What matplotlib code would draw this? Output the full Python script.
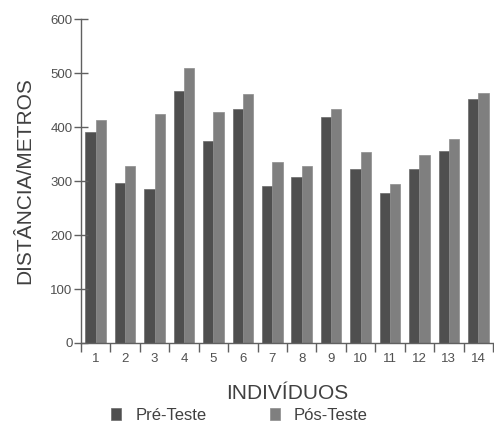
import matplotlib.pyplot as plt
import numpy as np

plt.rcParams['font.family'] = ['Liberation Sans', 'DejaVu Sans']

individuos = ['1', '2', '3', '4', '5', '6', '7', '8', '9', '10', '11', '12', '13', '14']
pre_teste = [390, 296, 285, 467, 374, 433, 291, 307, 418, 322, 277, 323, 356, 452]
pos_teste = [414, 328, 424, 510, 428, 462, 335, 327, 434, 353, 295, 349, 378, 464]

fig = plt.figure(figsize=(4.94, 4.25), dpi=100)
ax = fig.add_axes([0.164, 0.193, 0.834, 0.762])

x = np.arange(len(individuos))
w = 0.35
b1 = ax.bar(x - w / 2, pre_teste, w, color='#4f4f4f', edgecolor='#6a6a6a',
            linewidth=0.5, label='Pré-Teste')
b2 = ax.bar(x + w / 2, pos_teste, w, color='#7f7f7f', edgecolor='#8c8c8c',
            linewidth=0.5, label='Pós-Teste')

ax.set_xlim(-0.5, len(individuos) - 0.5)
ax.set_ylim(0, 600)
ax.set_yticks([0, 100, 200, 300, 400, 500, 600])
ax.set_xticks(x)
ax.set_xticklabels(individuos)
ax.set_xticks(np.arange(len(individuos) + 1) - 0.5, minor=True)

for s in ['top', 'right']:
    ax.spines[s].set_visible(False)
for s in ['left', 'bottom']:
    ax.spines[s].set_color('#606060')
    ax.spines[s].set_linewidth(1.0)

ax.tick_params(axis='y', direction='inout', length=10, width=1, color='#606060',
               labelsize=9.5, labelcolor='#505050', pad=1)
ax.tick_params(axis='x', which='major', length=0, labelsize=9.5,
               labelcolor='#505050', pad=7)
ax.tick_params(axis='x', which='minor', direction='out', length=6.5, width=1,
               color='#606060')

ax.set_ylabel('DISTÂNCIA/METROS', fontsize=15, color='#404040', labelpad=12)
ax.set_xlabel('INDIVÍDUOS', fontsize=15, color='#404040', labelpad=14)

fig.legend(handles=[b1, b2], labels=['Pré-Teste', 'Pós-Teste'], ncol=2,
           loc='center left', bbox_to_anchor=(0.225, 0.0235), frameon=False,
           borderpad=0, borderaxespad=0,
           fontsize=12, handlelength=0.6, handleheight=0.7, handletextpad=0.85,
           columnspacing=3.8, labelcolor='#404040')

fig.savefig('out.png', dpi=100)
